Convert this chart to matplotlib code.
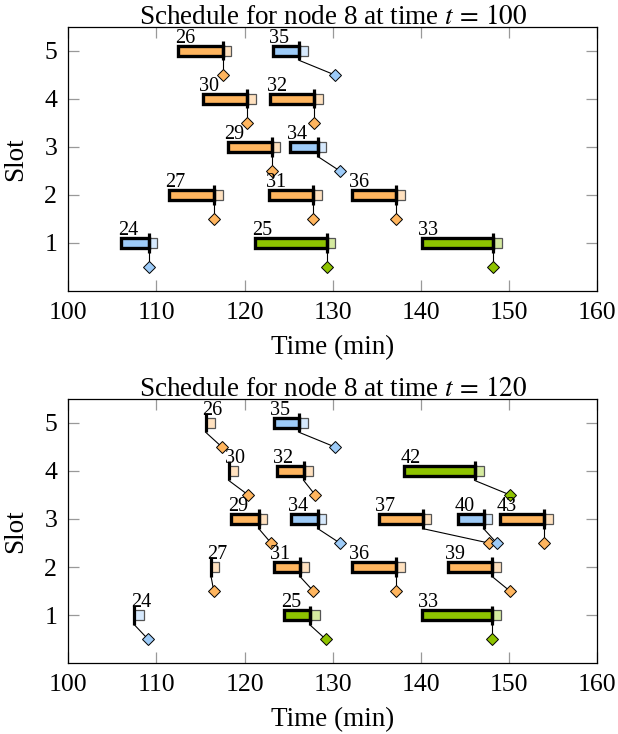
import matplotlib
matplotlib.use("Agg")
import matplotlib.pyplot as plt

plt.rcParams["font.family"] = ["Liberation Serif", "DejaVu Serif"]
plt.rcParams["mathtext.fontset"] = "stix"

# ── colours per job class ────────────────────────────────────────────────
FILL = {"orange": "#FFB55E", "blue": "#9DCBF8", "green": "#8EC300"}
LIGHT = {"orange": "#FFE1BF", "blue": "#D6E9FD", "green": "#D5EA9F"}

# ── schedule at t = 100 ──────────────────────────────────────────────────
jobs_100 = [26, 35, 30, 32, 29, 34, 27, 31, 36, 24, 25, 33]
slots_100 = [5, 5, 4, 4, 3, 3, 2, 2, 2, 1, 1, 1]
start_100 = [112.5, 123.2, 115.25, 122.9, 118.1, 125.2, 111.4, 122.8, 132.2, 106.0, 121.2, 140.1]
tick_100 = [117.5, 126.2, 120.25, 127.9, 123.1, 128.3, 116.5, 127.8, 137.2, 109.1, 129.3, 148.2]
end_100 = [118.5, 127.2, 121.3, 128.9, 124.0, 129.25, 117.5, 128.8, 138.2, 110.1, 130.3, 149.2]
deadline_100 = [117.5, 130.2, 120.25, 127.9, 123.1, 130.8, 116.5, 127.8, 137.2, 109.1, 129.3, 148.2]
kind_100 = ["orange", "blue", "orange", "orange", "orange", "blue",
            "orange", "orange", "orange", "blue", "green", "green"]

# ── schedule at t = 120 ──────────────────────────────────────────────────
jobs_120 = [26, 35, 30, 32, 42, 29, 34, 37, 40, 43, 27, 31, 36, 39, 24, 25, 33]
slots_120 = [5, 5, 4, 4, 4, 3, 3, 3, 3, 3, 2, 2, 2, 2, 1, 1, 1]
start_120 = [115.6, 123.3, 118.2, 123.65, 138.1, 118.5, 125.3, 135.2, 144.2, 149.0,
             116.2, 123.3, 132.2, 143.1, 107.5, 124.5, 140.1]
tick_120 = [115.6, 126.2, 118.2, 126.7, 146.1, 121.6, 128.3, 140.2, 147.1, 154.0,
            116.2, 126.3, 137.2, 148.1, 107.5, 127.4, 148.1]
end_120 = [116.6, 127.2, 119.3, 127.7, 147.1, 122.5, 129.25, 141.1, 148.1, 155.0,
           117.1, 127.3, 138.2, 149.1, 108.6, 128.5, 149.1]
deadline_120 = [117.4, 130.2, 120.4, 128.0, 150.1, 123.0, 130.8, 147.7, 148.6, 154.0,
                116.5, 127.8, 137.2, 150.1, 109.05, 129.2, 148.1]
kind_120 = ["orange", "blue", "orange", "orange", "green", "orange", "blue", "orange",
            "blue", "orange", "orange", "orange", "orange", "orange", "blue", "green", "green"]


def draw_schedule(ax, t_now, jobs, slots, starts, ticks, ends, deadlines, kinds):
    for j, s, a, tk, e, d, k in zip(jobs, slots, starts, ticks, ends, deadlines, kinds):
        # connector from the tick down to the deadline diamond
        ax.plot([tk, d], [s - 0.2, s - 0.5], color="black", lw=0.8, zorder=2)
        # light tail
        ax.barh(s, e - tk, left=tk, height=0.21, color=LIGHT[k],
                edgecolor="#555555", linewidth=0.9, zorder=3)
        # executed / planned part
        if tk - a > 0.05:
            ax.barh(s, tk - a, left=a, height=0.2, color=FILL[k],
                    edgecolor="black", linewidth=2.4, zorder=4)
        ax.vlines(tk, s - 0.2, s + 0.2, color="black", lw=2.3, zorder=5)
        ax.plot(d, s - 0.5, marker="D", ms=6.5, color=FILL[k],
                markeredgecolor="black", markeredgewidth=0.7, zorder=6)
        ax.text(a - 0.4, s + 0.17, str(j), ha="left", va="baseline",
                fontsize=14.5, zorder=7)

    ax.set_xlim(100, 160)
    ax.set_ylim(0, 5.5)
    ax.set_xticks([100, 110, 120, 130, 140, 150, 160])
    ax.set_yticks([1, 2, 3, 4, 5])
    ax.tick_params(direction="in", length=8, width=0.9, color="#999999",
                   top=True, right=True, labelsize=18.5, pad=8)
    for sp in ax.spines.values():
        sp.set_linewidth(0.9)
    ax.set_title(f"Schedule for node 8 at time $t\\,=\\,{t_now}$", fontsize=19.5, pad=2)
    ax.set_xlabel("Time (min)", fontsize=19.5, labelpad=8)
    ax.set_ylabel("Slot", fontsize=19.5, labelpad=12)


fig = plt.figure(figsize=(6.18, 7.34), dpi=100)
ax1 = fig.add_axes([0.1105, 0.6035, 0.856, 0.360])
ax2 = fig.add_axes([0.1105, 0.0963, 0.856, 0.3605])

draw_schedule(ax1, 100, jobs_100, slots_100, start_100, tick_100, end_100, deadline_100, kind_100)
draw_schedule(ax2, 120, jobs_120, slots_120, start_120, tick_120, end_120, deadline_120, kind_120)

fig.savefig("out.png", dpi=100)
